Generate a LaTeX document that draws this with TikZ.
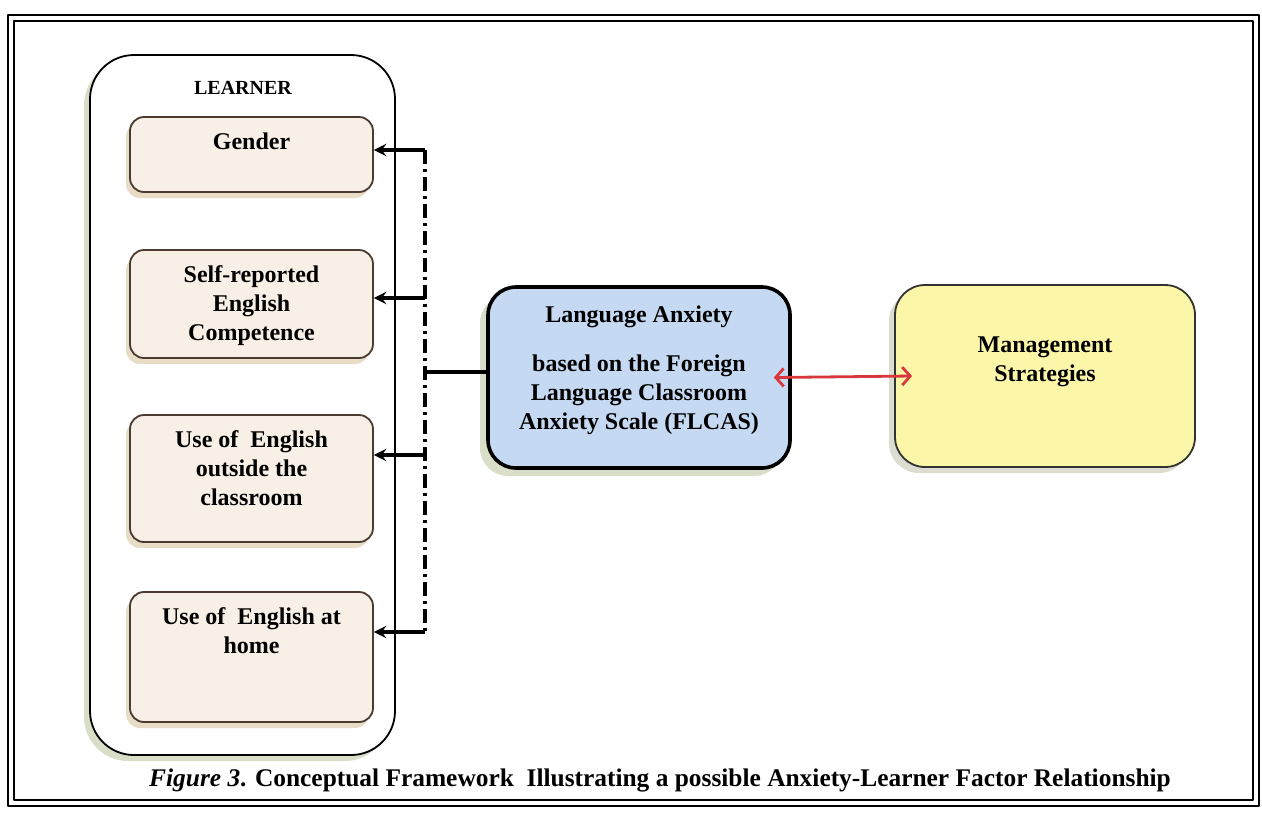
\documentclass[tikz,border=0pt]{standalone}
\usepackage{fontspec}
\setmainfont{Liberation Serif}
\usetikzlibrary{positioning,shadows,arrows.meta}
\definecolor{factfill}{HTML}{F8F0E6}
\definecolor{factline}{HTML}{4A3A30}
\definecolor{anxfill}{HTML}{C5D9F2}
\definecolor{mgtfill}{HTML}{FBF6A8}
\definecolor{arrred}{HTML}{D8383C}
\definecolor{shadebeige}{HTML}{E8DCC6}
\definecolor{shadegreen}{HTML}{D8DEC8}
\definecolor{shadegrey}{HTML}{DCDCD0}
\begin{document}
\begin{tikzpicture}[x=0.5pt,y=-0.5pt,line join=round,>=stealth,
	boxtxt/.style={font=\bfseries\fontsize{12}{14.5}\selectfont,align=center,inner sep=0pt},
	factor/.style={draw=factline,line width=0.9pt,fill=factfill,rounded corners=7pt,
		inner sep=0pt,minimum width=121.5pt,
		drop shadow={shadow xshift=-2pt,shadow yshift=-3pt,fill=shadebeige,opacity=1}},
	anxbox/.style={draw=black,line width=1.8pt,fill=anxfill,rounded corners=14pt,
		inner sep=0pt,minimum width=151pt,minimum height=90.5pt,
		drop shadow={shadow xshift=-4pt,shadow yshift=-4pt,fill=shadegreen,opacity=1}},
	mgtbox/.style={draw=black!80,line width=0.9pt,fill=mgtfill,rounded corners=15pt,
		inner sep=0pt,minimum width=150pt,minimum height=91pt,
		drop shadow={shadow xshift=-3pt,shadow yshift=-3pt,fill=shadegrey,opacity=1}},
	learnbox/.style={draw=black,line width=0.9pt,fill=white,rounded corners=22pt,
		inner sep=0pt,minimum width=152.5pt,minimum height=350pt,
		drop shadow={shadow xshift=-3pt,shadow yshift=-3pt,fill=shadegreen,opacity=1}},
	link/.style={line width=1.7pt},
	dashdotline/.style={line width=1.7pt,dash pattern=on 7pt off 2.5pt on 1.5pt off 2.5pt}]
	\useasboundingbox (0,0) rectangle (1262,821);
	% frame
	\draw[line width=1.2pt] (8,15) rectangle (1259,806);
	\draw[line width=0.8pt] (14,21) rectangle (1253,800);
	% learner factors
	\node[learnbox] (learner) at (242.5,405) {};
	\node[font=\bfseries\fontsize{10}{12}\selectfont] (learnlbl) at (243,88) {LEARNER};
	\foreach \n/\y/\h/\t in {gender/154.5/37.5/Gender,
		self/304/54/{Self-reported\\English\\Competence},
		out/478.5/63.5/{Use of~ English\\outside the\\classroom},
		home/657/65/{Use of~ English at\\home}}
	{
	\node[factor,minimum height=\h pt] (\n) at (251.5,\y) {};
	\node[boxtxt,below=8pt of \n.north] (\n txt) {\t};
	}
	% anxiety and strategies
	\node[anxbox] (lang) at (639,377.5) {};
	\node[boxtxt] (langtxt) at (639,370) {Language Anxiety\\[10pt]based on the Foreign\\Language Classroom\\Anxiety Scale (FLCAS)};
	\node[mgtbox] (mgmt) at (1045,376) {};
	\node[boxtxt] (mgmttxt) at (1045,362) {Management\\Strategies};
	% connectors
	\coordinate (bus) at (425,372);
	\draw[link] (bus) -- (bus -| lang.west);
	\draw[dashdotline] (bus |- 0,150) -- (bus |- 0,632);
	\foreach \n/\y in {gender/150,self/298,out/455,home/632}
	\draw[link,->] (bus |- 0,\y) -- (\n.east |- 0,\y);
	\draw[arrred,line width=1.4pt,{Straight Barb[length=4pt,width=9pt]}-{Straight Barb[length=4pt,width=9pt]}]
	([xshift=-9pt]lang.east) -- ([xshift=9pt]mgmt.west);
	% caption
	\node[font=\bfseries\fontsize{12.7}{15}\selectfont] (caption) at (660,780)
	{\textit{Figure 3}. Conceptual Framework~ Illustrating a possible Anxiety-Learner Factor Relationship};
\end{tikzpicture}
\end{document}
